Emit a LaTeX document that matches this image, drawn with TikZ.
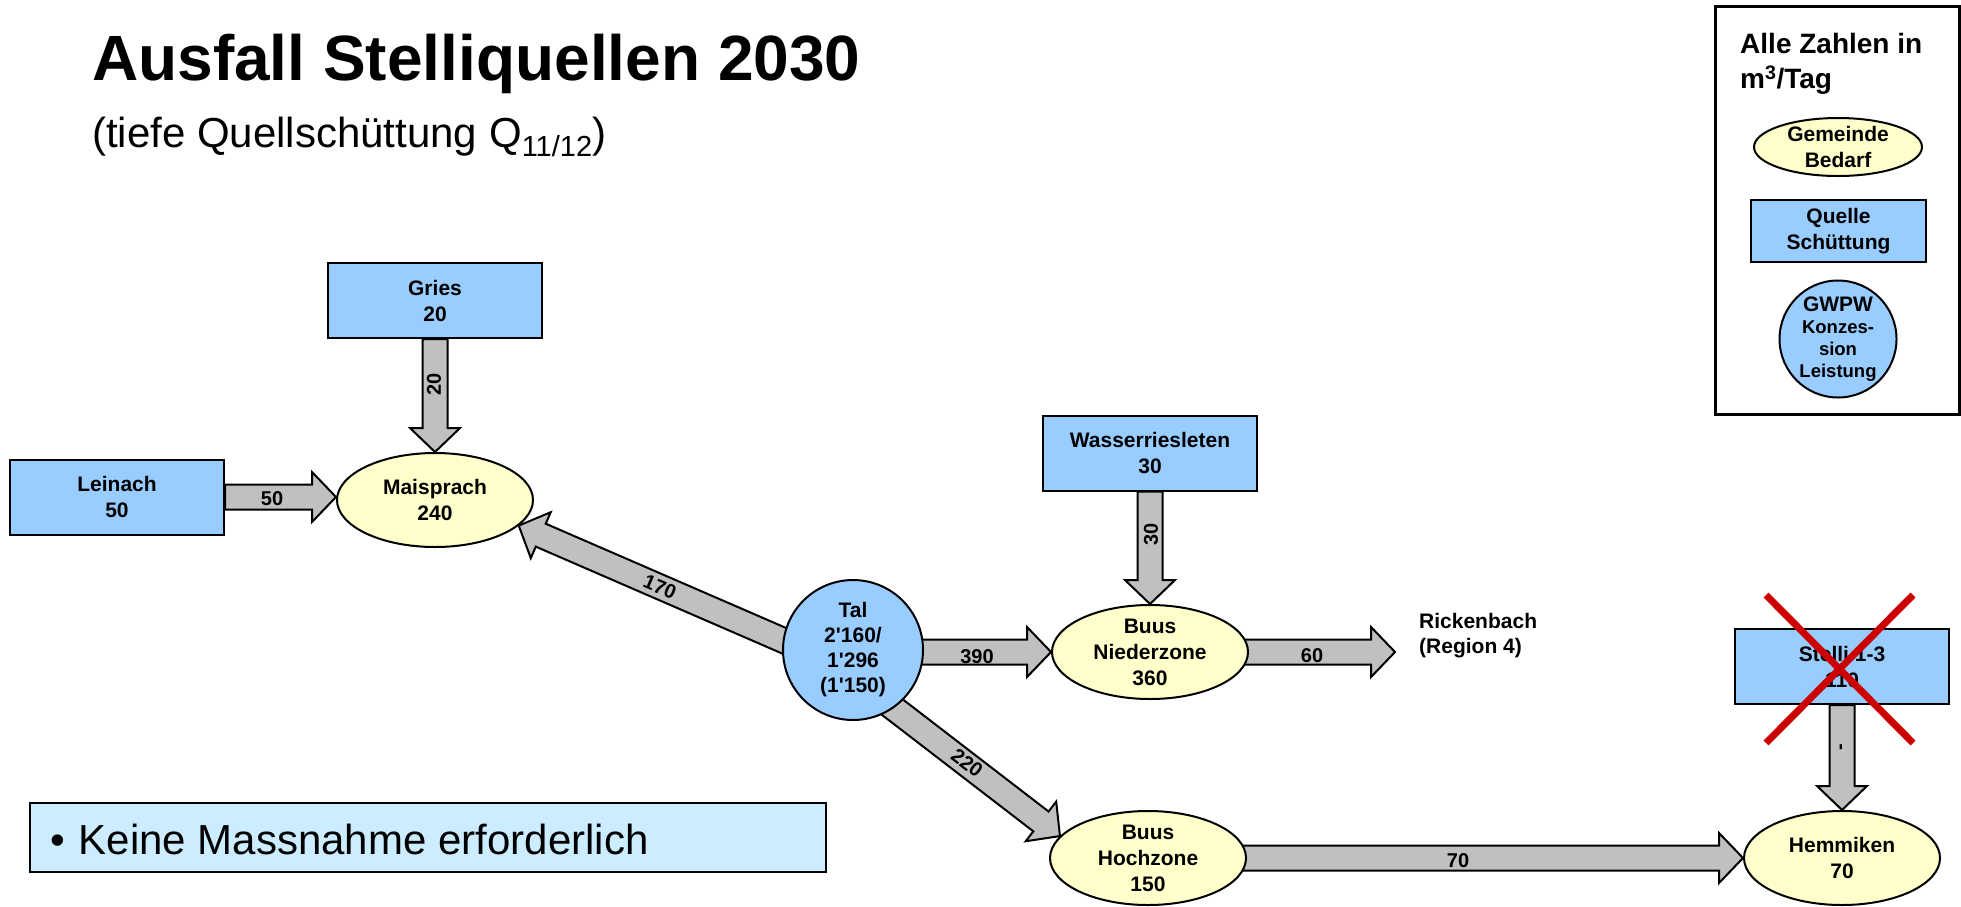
\documentclass[tikz,border=0pt]{standalone}
\usepackage{fontspec}
\setmainfont{Liberation Sans}
\usetikzlibrary{shapes.geometric,calc}
\definecolor{qblue}{RGB}{153,204,255}
\definecolor{gyel}{RGB}{255,255,204}
\definecolor{agray}{RGB}{192,192,192}
\definecolor{kblue}{RGB}{204,236,255}
\definecolor{xred}{RGB}{204,0,0}
\pgfdeclarelayer{bg}
\pgfsetlayers{bg,main}
\newcommand\mynodefont{\fontsize{21}{26}\selectfont\bfseries}
\newcommand\myflowfont{\fontsize{20}{24}\selectfont\bfseries}
\newcommand\blockarr[2]{%
  \coordinate (ba-h) at ($(#2)!24pt!(#1)$);
  \filldraw[blockarrow] ($(#1)!12.5pt!90:(#2)$) -- ($(ba-h)!12.5pt!90:(#2)$) -- ($(ba-h)!25pt!90:(#2)$) -- (#2) -- ($(ba-h)!25pt!-90:(#2)$) -- ($(ba-h)!12.5pt!-90:(#2)$) -- ($(#1)!12.5pt!-90:(#2)$) -- cycle;}
\begin{document}
\begin{tikzpicture}[x=1pt,y=-1pt,
  quelle/.style={draw, line width=2pt, fill=qblue, rectangle, minimum width=214pt, minimum height=75pt, inner sep=0pt, align=center, font=\mynodefont},
  gem/.style={draw, line width=2pt, fill=gyel, ellipse, minimum width=196pt, minimum height=94pt, inner sep=0pt},
  gw/.style={draw, line width=2pt, fill=qblue, circle, minimum size=140pt, inner sep=0pt},
  txt/.style={align=center, font=\mynodefont, inner sep=0pt},
  flow/.style={font=\myflowfont, inner sep=0pt},
  blockarrow/.style={draw=black, fill=agray, line width=2pt, line join=miter},
  cross/.style={draw=xred, line width=7pt}]
\useasboundingbox (0,0) rectangle (1961,906);

% titles
\node[anchor=base west, inner sep=0pt, font=\fontsize{64}{70}\selectfont\bfseries] (title) at (92,80) {Ausfall Stelliquellen 2030};
\node[anchor=base west, inner sep=0pt, font=\fontsize{42}{48}\selectfont] (subtitle) at (92,147) {(tiefe Quellschüttung Q\raisebox{-9pt}{\fontsize{29}{29}\selectfont 11/12})};

% nodes
\node[quelle] (gries) at (435,300.5) {Gries\\20};
\node[quelle] (lein) at (117,497) {Leinach\\50};
\node[gem] (mais) at (435,500) {};
\node[txt] (mais-t) at (mais) {Maisprach\\240};
\node[quelle] (wass) at (1150,453) {Wasserriesleten\\30};
\node[gw] (tal) at (853,650) {};
\node[txt, font=\fontsize{21}{25}\selectfont\bfseries] (tal-t) at (tal) {Tal\\2\textquotesingle160/\\1\textquotesingle296\\(1\textquotesingle150)};
\node[gem] (nied) at (1150,652) {};
\node[txt] (nied-t) at (nied) {Buus\\Niederzone\\360};
\coordinate (rick) at (1395,652);
\node[anchor=west, align=left, font=\fontsize{21}{25}\selectfont\bfseries, inner sep=0pt] (rick-t) at (1419,636) {Rickenbach\\(Region 4)};
\node[gem] (hoch) at (1148,858) {};
\node[txt] (hoch-t) at (hoch) {Buus\\Hochzone\\150};
\node[gem] (hemm) at (1842,858) {};
\node[txt] (hemm-t) at (hemm) {Hemmiken\\70};
\node[quelle] (stelli) at (1842,666.5) {Stelli 1-3\\110};
\draw[cross] (1766,595) -- (1913,743);
\draw[cross] (1913,595) -- (1766,743);

% legend
\node[draw, line width=3pt, minimum width=244pt, minimum height=408pt, inner sep=0pt] (legend) at (1837,210) {};
\node[anchor=north west, align=left, inner sep=0pt, font=\fontsize{28}{35}\selectfont\bfseries] (leg-title) at (1740,33) {Alle Zahlen in\\m\textsuperscript{3}/Tag};
\node[gem, minimum width=168pt, minimum height=58pt] (leg-gem) at (1838,147) {};
\node[txt, font=\fontsize{21}{26}\selectfont\bfseries] (leg-gem-t) at (leg-gem) {Gemeinde\\Bedarf};
\node[quelle, minimum width=175pt, minimum height=62pt, font=\fontsize{21}{26}\selectfont\bfseries] (leg-q) at (1838.5,231) {Quelle\\Schüttung};
\node[gw, minimum size=117pt] (leg-gw) at (1838,339) {};
\node[txt, font=\fontsize{18.5}{22}\selectfont\bfseries] (leg-gw-t) at (leg-gw) {{\fontsize{21}{22}\selectfont GWPW}\\Konzes-\\sion\\Leistung};

% note box
\node[draw, line width=2pt, fill=kblue, minimum width=796pt, minimum height=69pt, inner sep=0pt] (keine) at (428,837.5) {};
\node[anchor=base west, inner sep=0pt, font=\fontsize{42}{48}\selectfont] (keine-t) at (50,854) {\textbullet\hspace{14pt}Keine Massnahme erforderlich};

% arrows
\begin{pgfonlayer}{bg}
  \fill[white] (0,0) rectangle (1961,906);
  \blockarr{gries.south}{mais.north}
  \node[flow, rotate=90] (l20) at (434,384) {20};
  \coordinate (m50) at (mais.west |- lein.east);
  \blockarr{lein.east}{m50}
  \node[flow] (l50) at (272,499) {50};
  \coordinate (t170) at ($(tal.172)!-15pt!(mais.-17)$);
  \blockarr{t170}{mais.-17}
  \node[flow, rotate=-23] (l170) at (660,587) {170};
  \coordinate (t390) at (tal.center |- nied.west);
  \blockarr{t390}{nied.west}
  \node[flow] (l390) at (977,657) {390};
  \blockarr{nied.center}{rick}
  \node[flow] (l60) at (1312,656) {60};
  \coordinate (t220) at ($(tal.-55)!-15pt!(hoch.166)$);
  \blockarr{t220}{hoch.166}
  \node[flow, rotate=-37] (l220) at (967,763) {220};
  \blockarr{hoch.center}{hemm.west}
  \node[flow] (l70) at (1458,861) {70};
  \blockarr{wass.south}{nied.north}
  \node[flow, rotate=90] (l30) at (1151,534) {30};
  \blockarr{stelli.south}{hemm.north}
  \node[flow, rotate=90] (lminus) at (1843,747) {-};
\end{pgfonlayer}
\end{tikzpicture}
\end{document}
